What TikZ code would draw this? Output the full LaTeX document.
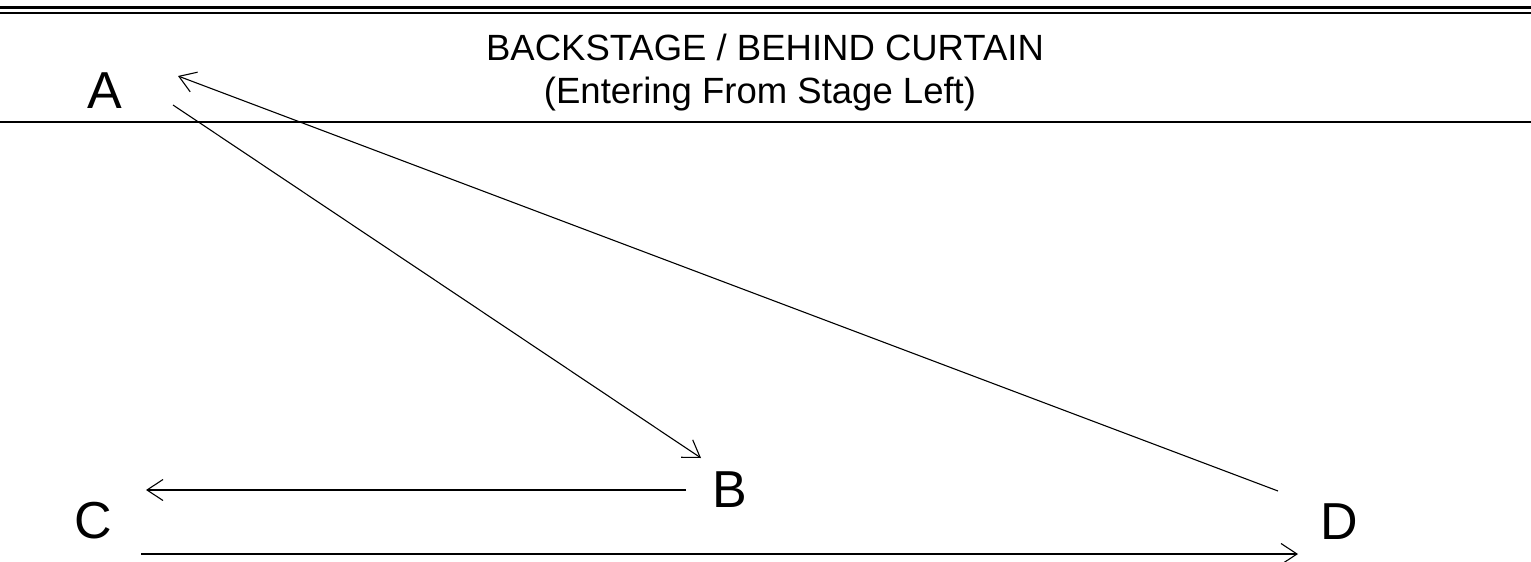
\documentclass[tikz,border=0pt]{standalone}
\usepackage{fontspec}
\setmainfont{Liberation Sans}
\usetikzlibrary{arrows.meta}
\tikzset{
  lbl/.style={inner sep=0pt, anchor=base, font=\fontsize{52}{60}\selectfont},
  ttl/.style={inner sep=0pt, anchor=base, font=\fontsize{36.5}{42}\selectfont},
  conn/.style={line width=1.1pt, -{Straight Barb[length=16pt,width=21pt,line width=1.1pt]}},
  rule/.style={line width=#1}
}
\begin{document}
\begin{tikzpicture}[x=1pt,y=-1pt]
\useasboundingbox (0,0) rectangle (1531,562);
% curtain rules
\draw[rule=3pt] (0,7.5) -- (1531,7.5);
\draw[rule=2pt] (0,13) -- (1531,13);
\draw[rule=2pt] (0,122) -- (1531,122);
% title
\node[ttl] (t1) at (765,60) {BACKSTAGE / BEHIND CURTAIN};
\node[ttl] (t2) at (760,103) {(Entering From Stage Left)};
% positions
\node[lbl] (A) at (105,108) {A};
\node[lbl] (B) at (730,507) {B};
\node[lbl] (C) at (93,538) {C};
\node[lbl] (D) at (1339,539) {D};
% connector ends
\coordinate (a1) at (173,105);
\coordinate (a2) at (178,76);
\coordinate (b1) at (701,458);
\coordinate (b2) at (686,490);
\coordinate (c1) at (146,490);
\coordinate (c2) at (141,554);
\coordinate (d1) at (1298,554);
\coordinate (d2) at (1278,491);
\draw[conn] (a1) -- (b1);
\draw[conn] (d2) -- (a2);
\draw[conn] (b2) -- (c1);
\draw[conn] (c2) -- (d1);
\end{tikzpicture}
\end{document}
